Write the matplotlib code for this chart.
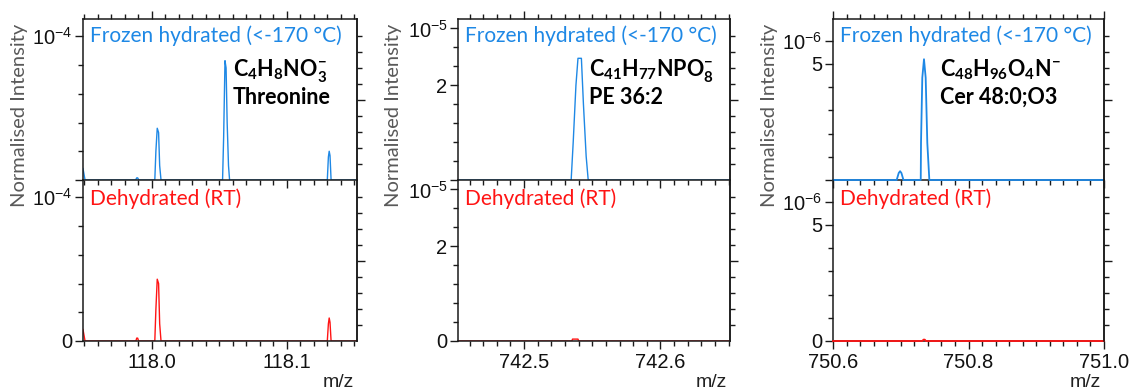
import matplotlib
matplotlib.use("Agg")
import matplotlib.pyplot as plt
from matplotlib.ticker import FixedLocator, NullFormatter, FixedFormatter

plt.rcParams['mathtext.fontset'] = 'custom'
plt.rcParams['mathtext.rm'] = 'Liberation Sans'
plt.rcParams['mathtext.it'] = 'Liberation Sans:italic'
plt.rcParams['mathtext.bf'] = 'Lato:bold'
plt.rcParams['font.family'] = ['Liberation Sans', 'DejaVu Sans']

# ---------------- data (intensities in units of the panel scale) ----------------
# Panel 1: Threonine, scale 1e-4
p1_frozen_mz = [117.947, 117.949, 117.9505, 117.988, 117.9888, 117.9895, 117.9903, 118.0022,
                118.0030, 118.0040, 118.0050, 118.0058, 118.0068, 118.0524, 118.0532,
                118.0542, 118.0550, 118.0558, 118.0568, 118.0576, 118.1300, 118.1308,
                118.1314, 118.1320, 118.1328, 118.155]
p1_frozen_int = [0.10, 0.08, 0.0, 0.0, 0.015, 0.015, 0.0, 0.0,
                 0.20, 0.36, 0.33, 0.10, 0.0, 0.0, 0.30,
                 0.83, 0.78, 0.40, 0.10, 0.0, 0.0, 0.16,
                 0.20, 0.17, 0.0, 0.0]
p1_dehyd_mz = [117.947, 117.949, 117.9505, 117.9882, 117.9888, 117.9895, 117.9902, 118.0022,
               118.0030, 118.0040, 118.0050, 118.0058, 118.0068, 118.1300, 118.1308,
               118.1314, 118.1320, 118.1328, 118.155]
p1_dehyd_int = [0.10, 0.08, 0.0, 0.0, 0.02, 0.02, 0.0, 0.0,
                0.22, 0.43, 0.40, 0.12, 0.0, 0.0, 0.12,
                0.16, 0.13, 0.0, 0.0]

# Panel 2: PE 36:2, scale 1e-5
p2_frozen_mz = [742.450, 742.5345, 742.5360, 742.5380, 742.5395, 742.5420, 742.5435,
                742.5455, 742.5470, 742.652]
p2_frozen_int = [0.0, 0.0, 0.8, 2.0, 2.57, 2.57, 1.6, 0.5, 0.0, 0.0]
p2_dehyd_mz = [742.450, 742.5350, 742.5355, 742.5395, 742.5400, 742.652]
p2_dehyd_int = [0.0, 0.0, 0.04, 0.04, 0.0, 0.0]

# Panel 3: Cer 48:0;O3, scale 1e-6
p3_frozen_mz = [750.600, 750.6940, 750.6970, 750.6990, 750.7010, 750.7040, 750.7295,
                750.7299, 750.7318, 750.7343, 750.7368, 750.7392, 750.7422, 751.000]
p3_frozen_int = [0.0, 0.0, 0.30, 0.38, 0.30, 0.0, 0.0,
                 1.6, 4.4, 5.2, 4.4, 1.6, 0.0, 0.0]
p3_dehyd_mz = [750.600, 750.7320, 750.7335, 750.7355, 750.7370, 751.000]
p3_dehyd_int = [0.0, 0.0, 0.06, 0.06, 0.0, 0.0]

formulas = [r"C$_\mathbf{4}$H$_\mathbf{8}$NO$_\mathbf{3}^\mathbf{-}$",
            r"C$_\mathbf{41}$H$_\mathbf{77}$NPO$_\mathbf{8}^\mathbf{-}$",
            r"C$_\mathbf{48}$H$_\mathbf{96}$O$_\mathbf{4}$N$^\mathbf{-}$"]
names = ["Threonine", "PE 36:2", "Cer 48:0;O3"]
exp_labels = [r"$10^{-4}$", r"$10^{-5}$", r"$10^{-6}$"]

# axis settings per panel
xlims = [(117.949, 118.152), (742.4515, 742.651), (750.6, 751.0)]
xmajor = [[118.0, 118.1], [742.5, 742.6], [750.6, 750.8, 751.0]]
xmajor_lbl = [["118.0", "118.1"], ["742.5", "742.6"], ["750.6", "750.8", "751.0"]]
xminor_step = [0.01, 0.01, 0.02]
ytops = [1.12, 3.40, 6.93]
ylabeled = [[(1.0, "exp")], [(2.0, "2"), (3.2, "exp")], [(5.0, "5"), (6.0, "exp")]]
yminor_step = [0.2, 0.4, 1.0]
ymax_tick = [1.0, 3.2, 6.0]

frozen = [(p1_frozen_mz, p1_frozen_int), (p2_frozen_mz, p2_frozen_int), (p3_frozen_mz, p3_frozen_int)]
dehyd = [(p1_dehyd_mz, p1_dehyd_int), (p2_dehyd_mz, p2_dehyd_int), (p3_dehyd_mz, p3_dehyd_int)]

BLUE = '#1e88e5'
RED = '#ff1414'
AXC = '#1a1a1a'
W, H = 1131, 390

fig = plt.figure(figsize=(W / 100, H / 100), dpi=100)

lefts = [83, 458, 833]
rights = [357, 730, 1104]
y_top, y_mid, y_bot = 19, 180, 341

for i in range(3):
    l = lefts[i] / W
    w = (rights[i] - lefts[i]) / W
    h = (y_mid - y_top) / H
    ax_t = fig.add_axes([l, 1 - y_mid / H, w, h])
    ax_b = fig.add_axes([l, 1 - y_bot / H, w, h])
    ax_b.spines['top'].set_visible(False)
    ax_b.patch.set_visible(False)
    for k, (ax, data, col) in enumerate([(ax_t, frozen[i], BLUE), (ax_b, dehyd[i], RED)]):
        ax.set_xlim(*xlims[i])
        ax.set_ylim(0, ytops[i])
        for s in ax.spines.values():
            s.set_color(AXC)
            s.set_linewidth(1.1)
        # x ticks
        ax.xaxis.set_major_locator(FixedLocator(xmajor[i]))
        x0, x1 = xlims[i]
        st = xminor_step[i]
        n0 = int(round(x0 / st)) - 1
        n1 = int(round(x1 / st)) + 1
        minors = [n * st for n in range(n0, n1 + 1) if x0 - 1e-9 <= n * st <= x1 + 1e-9]
        ax.xaxis.set_minor_locator(FixedLocator(minors))
        if k == 0:
            ax.tick_params(axis='x', which='both', top=True, bottom=True, direction='out',
                           labelbottom=False, color=AXC)
        else:
            ax.tick_params(axis='x', which='both', top=False, bottom=True, direction='out',
                           color=AXC)
            ax.xaxis.set_major_formatter(FixedFormatter(xmajor_lbl[i]))
        ax.tick_params(axis='x', which='major', length=5.5, width=1.0, labelsize=14.5,
                       pad=3, labelcolor='#111111')
        ax.tick_params(axis='x', which='minor', length=3.5, width=1.0)
        # y ticks (left)
        maj_vals = [0.0] + [v for v, _ in ylabeled[i]]
        maj_lbls = ['' if k == 0 else '0'] + [exp_labels[i] if t == 'exp' else t for _, t in ylabeled[i]]
        ax.yaxis.set_major_locator(FixedLocator(maj_vals))
        ax.yaxis.set_major_formatter(FixedFormatter(maj_lbls))
        ys = yminor_step[i]
        ymin = [j * ys for j in range(1, int(round(ymax_tick[i] / ys)) + 1)]
        ymin = [v for v in ymin if all(abs(v - m) > 1e-6 for m in maj_vals)]
        ax.yaxis.set_minor_locator(FixedLocator(ymin))
        ax.tick_params(axis='y', which='both', left=True, right=False, direction='out', color=AXC)
        ax.tick_params(axis='y', which='major', length=5.5, width=1.0, labelsize=14.5, pad=2,
                       labelcolor='#111111')
        ax.tick_params(axis='y', which='minor', length=3.5, width=1.0)
        # right-side ticks
        axr = ax.twinx()
        axr.set_ylim(0, 10.06)
        axr.yaxis.set_major_locator(FixedLocator([5]))
        axr.yaxis.set_minor_locator(FixedLocator([1, 2, 3, 4, 6, 7, 8, 9]))
        axr.yaxis.set_major_formatter(NullFormatter())
        axr.tick_params(axis='y', which='both', direction='out', color=AXC, width=1.0)
        axr.tick_params(axis='y', which='major', length=5.5)
        axr.tick_params(axis='y', which='minor', length=3.5)
        for name, s in axr.spines.items():
            s.set_visible(name == 'right')
            s.set_color(AXC)
            s.set_linewidth(1.1)
        if i == 2:
            ax.plot(data[0], data[1], color=col, lw=1.3, zorder=4, clip_on=False)
            for s in ax.spines.values():
                s.set_zorder(1)
        else:
            ax.plot(data[0], data[1], color=col, lw=1.0, zorder=2)

    ax_t.text(0.026, 0.86, "Frozen hydrated (<-170 °C)", transform=ax_t.transAxes,
              color=BLUE, fontsize=15, family=['Lato', 'DejaVu Sans'], va='baseline', ha='left')
    ax_b.text(0.026, 0.845, "Dehydrated (RT)", transform=ax_b.transAxes,
              color=RED, fontsize=15, family=['Lato', 'DejaVu Sans'], va='baseline', ha='left')
    fx = [0.547, 0.482, 0.395][i]
    ax_t.text(fx, 0.646, formulas[i], transform=ax_t.transAxes, color='black',
              fontsize=15.5, fontweight='bold', family=['Lato', 'DejaVu Sans'],
              va='baseline', ha='left')
    ax_t.text(fx, 0.472, names[i], transform=ax_t.transAxes, color='black',
              fontsize=15.5, fontweight='bold', family=['Lato', 'DejaVu Sans'],
              va='baseline', ha='left')

    ylx = [20, 393, 770][i]
    fig.text(ylx / W, 1 - 115 / H, "Normalised Intensity", rotation=90, ha='center',
             va='center', color='#595959', fontsize=14.5, family=['Lato', 'DejaVu Sans'])
    fig.text((rights[i] - 3) / W, 1 - 374 / H, "m/z", ha='right', va='top',
             color='#222222', fontsize=14)

fig.savefig("out.png", dpi=100)
